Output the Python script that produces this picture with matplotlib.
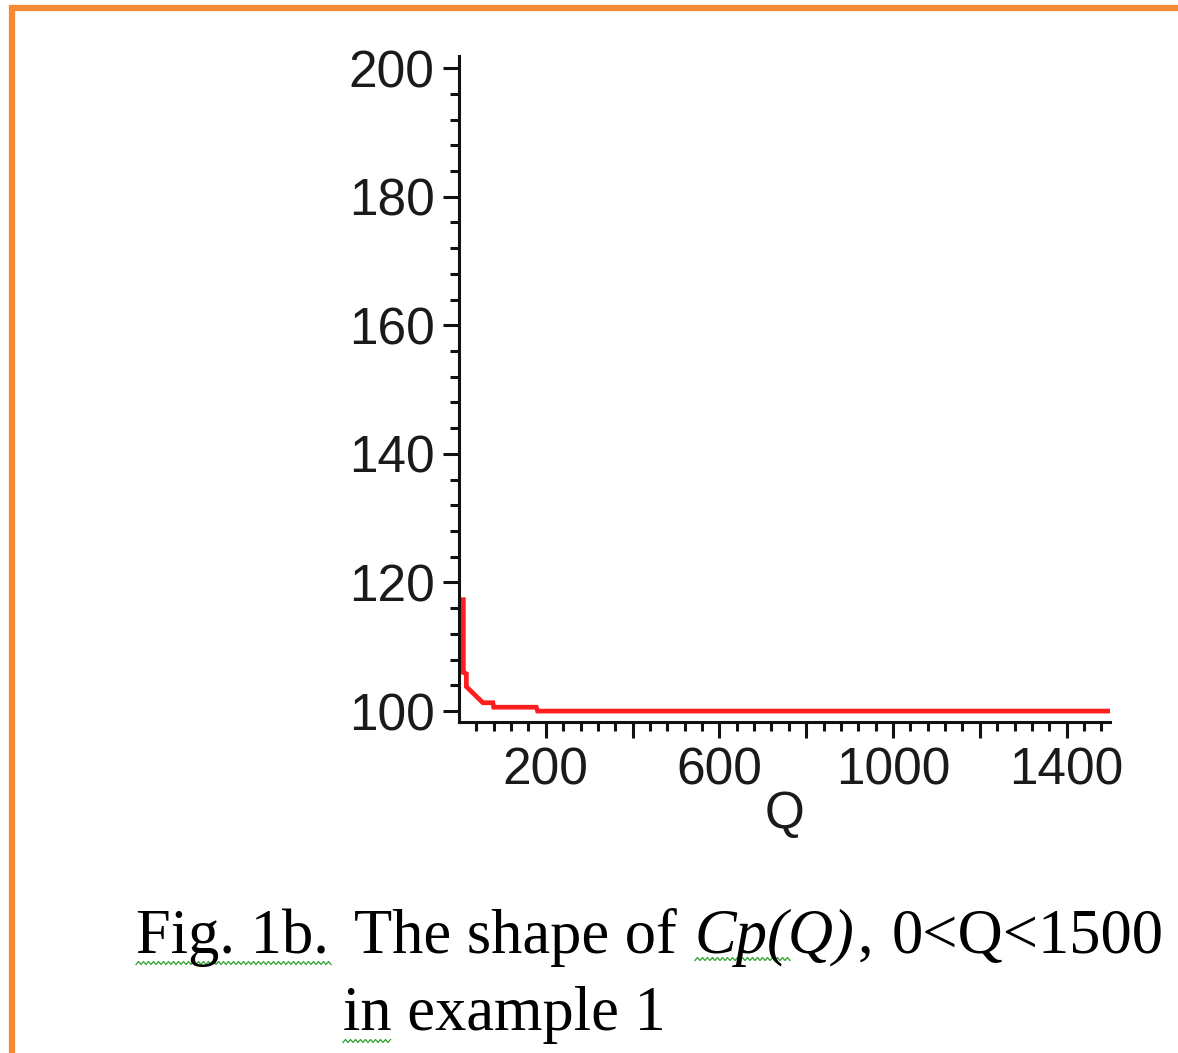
import matplotlib
matplotlib.use("Agg")
import matplotlib.pyplot as plt
import numpy as np
from matplotlib.lines import Line2D
from matplotlib.ticker import FixedLocator, FixedFormatter

# Cp(Q) curve, 0 < Q < 1500
Q_vals = [10, 10, 17, 17, 55, 78, 80, 178, 181, 1500]
cp_vals = [117.7, 106.0, 105.8, 103.8, 101.3, 101.3, 100.6, 100.6, 100.0, 100.0]

x_major = [200, 400, 600, 800, 1000, 1200, 1400]
x_labels = ["200", "", "600", "", "1000", "", "1400"]
x_minor = [q for q in range(40, 1500, 40) if q % 200 != 0]
y_major = [100, 120, 140, 160, 180, 200]
y_labels = ["100", "120", "140", "160", "180", "200"]
y_minor = [v for v in range(104, 200, 4) if v % 20 != 0]

W, H = 1178, 1053
fig = plt.figure(figsize=(W / 100, H / 100), dpi=100)
fig.patch.set_facecolor("white")


def fx(px):
    return px / W


def fy(py):
    return 1 - py / H


ax = fig.add_axes([fx(459), fy(722), fx(1110) - fx(459), fy(56) - fy(722)])
ax.plot(Q_vals, cp_vals, color="#ff1e1e", lw=3.4, solid_joinstyle="miter",
        solid_capstyle="butt")
ax.set_xlim(0, 1500)
ax.set_ylim(98.3, 201.9)

for s in ["top", "right"]:
    ax.spines[s].set_visible(False)
for s in ["left", "bottom"]:
    ax.spines[s].set_linewidth(2.2)
    ax.spines[s].set_color("#111111")

ax.xaxis.set_major_locator(FixedLocator(x_major))
ax.xaxis.set_major_formatter(FixedFormatter(x_labels))
ax.xaxis.set_minor_locator(FixedLocator(x_minor))
ax.yaxis.set_major_locator(FixedLocator(y_major))
ax.yaxis.set_major_formatter(FixedFormatter(y_labels))
ax.yaxis.set_minor_locator(FixedLocator(y_minor))

tick_font = "Liberation Sans"
ax.tick_params(which="major", length=11.5, width=2.2, color="#111111",
               labelsize=37, labelcolor="#1a1a1a", pad=6)
ax.tick_params(which="minor", length=6.5, width=2.2, color="#111111")
for lab in ax.get_xticklabels() + ax.get_yticklabels():
    lab.set_fontfamily(tick_font)

ax.set_xlabel("Q", fontsize=37, fontfamily=tick_font, color="#1a1a1a",
              labelpad=-4)

# caption below the plot
cap = dict(fontsize=45, family="Liberation Serif", color="black",
           va="baseline", ha="left")
fig.text(fx(136), fy(953), "Fig. 1b.", **cap)
fig.text(fx(354), fy(953), "The shape of", **cap)
fig.text(fx(695), fy(953), "Cp(Q)", style="italic", **cap)
fig.text(fx(858), fy(953), ",", **cap)
fig.text(fx(892), fy(953), "0<Q<1500", **cap)
fig.text(fx(343), fy(1030), "in example 1", **cap)


def wavy(x0, x1, y, color="#2ca02c"):
    xs = np.arange(x0, x1 + 1, 2.5)
    ys = y + np.where(np.arange(len(xs)) % 2 == 0, 1.5, -1.5)
    fig.add_artist(Line2D(fx(xs), fy(ys), transform=fig.transFigure,
                          color=color, lw=0.9))


wavy(136, 332, 963)
wavy(695, 790, 959)
wavy(343, 390, 1041)

# orange frame
orange = "#f68a32"
fig.add_artist(Line2D([fx(9), fx(W)], [fy(8), fy(8)], transform=fig.transFigure,
                      color=orange, lw=4.5, solid_capstyle="butt"))
fig.add_artist(Line2D([fx(12), fx(12)], [fy(5), fy(H)], transform=fig.transFigure,
                      color=orange, lw=4.5, solid_capstyle="butt"))

fig.savefig("out.png", dpi=100)
